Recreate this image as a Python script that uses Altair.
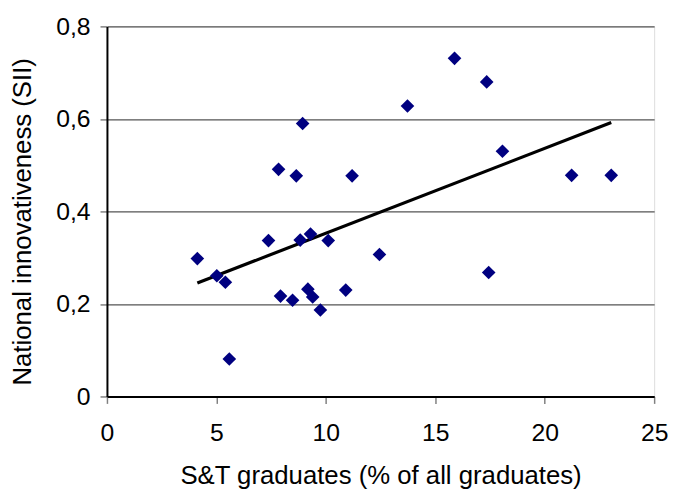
import altair as alt
import pandas as pd

graduates = [8.94, 7.84, 8.65, 11.2, 15.88, 17.35, 13.73, 18.07, 21.23, 23.04,
             4.13, 5.02, 5.41, 5.59, 7.38, 8.83, 9.30, 10.11, 12.45, 7.93,
             8.48, 9.18, 9.40, 9.75, 10.91, 17.44]
sii = [0.590, 0.491, 0.477, 0.477, 0.731, 0.680, 0.628, 0.530, 0.478, 0.478,
       0.298, 0.261, 0.247, 0.081, 0.337, 0.338, 0.351, 0.337, 0.307, 0.217,
       0.208, 0.232, 0.215, 0.187, 0.230, 0.268]

df = pd.DataFrame({"x": graduates, "y": sii})

FONT = "Liberation Sans"

xenc = alt.X("x:Q", scale=alt.Scale(domain=[0, 25], nice=False),
             axis=alt.Axis(title="S&T graduates (% of all graduates)",
                           values=[0, 5, 10, 15, 20, 25], grid=False,
                           labelFontSize=25, titleFontSize=26, labelFont=FONT, titleFont=FONT,
                           labelColor="black", titleColor="black", titleFontWeight="normal",
                           domainColor="black", domainWidth=2, tickColor="#808080",
                           tickSize=7, tickWidth=1.5, labelPadding=18,
                           titleY=88, titleBaseline="alphabetic",
                           labelFlush=False))
yenc = alt.Y("y:Q", scale=alt.Scale(domain=[0, 0.8], nice=False),
             axis=alt.Axis(title="National innovativeness (SII)",
                           values=[0, 0.2, 0.4, 0.6, 0.8], grid=True,
                           gridColor="#555555", gridWidth=1.2,
                           labelExpr="datum.value == 0 ? '0' : replace(format(datum.value, '.1f'), '.', ',')",
                           labelFontSize=25, titleFontSize=26, labelFont=FONT, titleFont=FONT,
                           labelColor="black", titleColor="black", titleFontWeight="normal",
                           domainColor="black", domainWidth=2, tickColor="#808080",
                           tickSize=7, tickWidth=1.5, labelPadding=10, titlePadding=20,
                           titleY=197, labelFlush=False))

points = alt.Chart(df).mark_point(shape="diamond", filled=True, size=190,
                                  color="#000080", opacity=1).encode(x=xenc, y=yenc)

trend = alt.Chart(df).transform_regression("x", "y").mark_line(
    color="black", strokeWidth=3.2).encode(x="x:Q", y="y:Q")

chart = alt.layer(trend, points).properties(
    width=553, height=374,
    autosize=alt.AutoSizeParams(type="none"),
    padding={"left": 100, "top": 16, "right": 14, "bottom": 97},
).configure_view(stroke="black", strokeWidth=2).configure(background="white")

chart.save("out.html", embed_options={"renderer": "svg", "actions": False})
